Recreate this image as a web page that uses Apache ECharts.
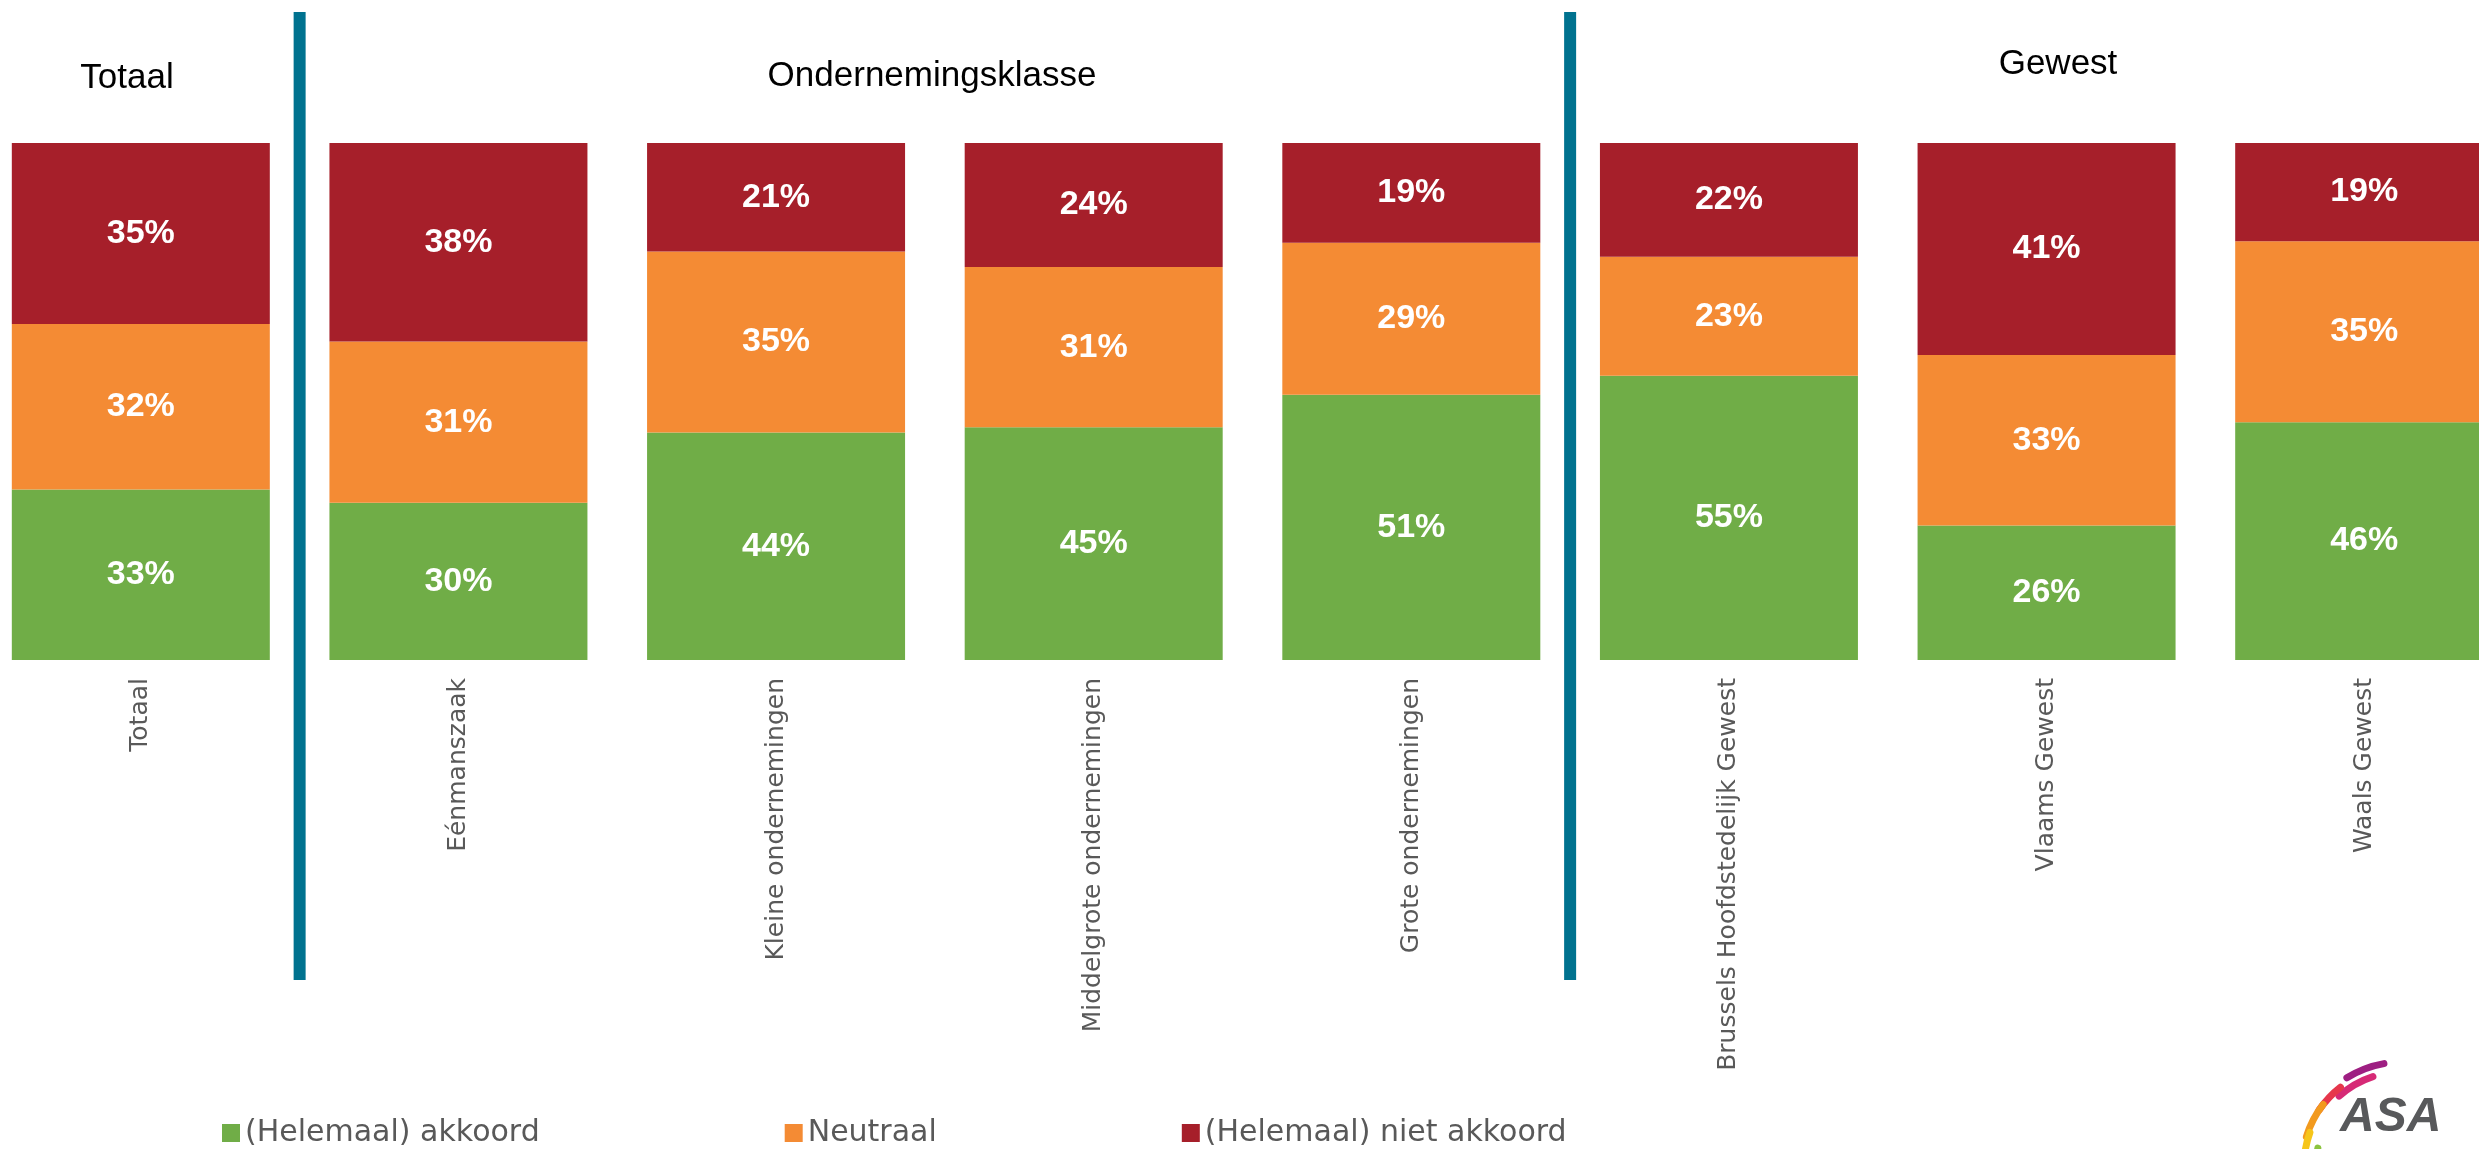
<!DOCTYPE html>
<html>
<head>
<meta charset="utf-8">
<script src="https://cdn.jsdelivr.net/npm/echarts/dist/echarts.min.js"></script>
<style>
  html, body { margin: 0; padding: 0; background: #ffffff; overflow: hidden; width: 2479px; height: 1149px; }
  /* the plot runs slightly past both page edges, so the canvas is wider than the page */
  #chart { position: absolute; left: -18px; top: 0; width: 2541px; height: 1149px; }
</style>
</head>
<body>
<div id="chart"></div>
<script>
// Categories along the x axis
const categories = [
  'Totaal',
  'Eénmanszaak',
  'Kleine ondernemingen',
  'Middelgrote ondernemingen',
  'Grote ondernemingen',
  'Brussels Hoofdstedelijk Gewest',
  'Vlaams Gewest',
  'Waals Gewest'
];

// Shares per category (percent), stacked bottom to top
const akkoord     = [33, 30.4, 44, 45, 51.3, 55, 26, 46];
const neutraal    = [32, 31.2, 35, 31, 29.4, 23, 33, 35];
const nietAkkoord = [35, 38.4, 21, 24, 19.3, 22, 41, 19];

// Series names (legend)
const seriesNames = ['(Helemaal) akkoord', 'Neutraal', '(Helemaal) niet akkoord'];

// Category groups: titles and number of categories in each group
const groupTitles = ['Totaal', 'Ondernemingsklasse', 'Gewest'];
const groupSizes  = [1, 4, 3];

const COLORS = { green: '#70AD47', orange: '#F48B34', red: '#A61F2A', blue: '#00728F', grey: '#595959' };

// horizontal offset of the canvas relative to the page
const OFFSET = 18;

const chart = echarts.init(document.getElementById('chart'), null, { renderer: 'canvas' });

const valueLabel = {
  show: true,
  position: 'inside',
  color: '#ffffff',
  fontFamily: 'Liberation Sans',
  fontWeight: 'bold',
  fontSize: 34,
  textBorderWidth: 0,
  formatter: p => Math.round(p.value) + '%'
};

function barSeries(name, data, color) {
  return {
    name: name,
    type: 'bar',
    stack: 'total',
    data: data,
    barWidth: 258,
    itemStyle: { color: color },
    label: valueLabel,
    emphasis: { disabled: true }
  };
}

chart.setOption({
  animation: false,
  backgroundColor: '#ffffff',
  grid: { left: 0, right: 0, top: 143, bottom: 489, containLabel: false },
  xAxis: {
    type: 'category',
    data: categories,
    axisLine: { show: false },
    axisTick: { show: false },
    axisLabel: {
      interval: 0,
      rotate: 90,
      margin: 18,
      color: COLORS.grey,
      fontFamily: 'DejaVu Sans',
      fontSize: 25
    }
  },
  yAxis: {
    type: 'value',
    min: 0,
    max: 100,
    show: false
  },
  legend: {
    left: 217 + OFFSET,
    top: 1113,
    icon: 'rect',
    itemWidth: 18,
    itemHeight: 18,
    itemGap: 245,
    selectedMode: false,
    textStyle: { fontFamily: 'DejaVu Sans', fontSize: 30, color: COLORS.grey },
    data: seriesNames
  },
  series: [
    barSeries(seriesNames[0], akkoord, COLORS.green),
    barSeries(seriesNames[1], neutraal, COLORS.orange),
    barSeries(seriesNames[2], nietAkkoord, COLORS.red)
  ]
});

// Vertical separators between the category groups, placed midway between neighbouring bars
const graphics = [];
let idx = 0;
for (let g = 0; g < groupSizes.length - 1; g++) {
  idx += groupSizes[g];
  const xa = chart.convertToPixel({ xAxisIndex: 0 }, idx - 1);
  const xb = chart.convertToPixel({ xAxisIndex: 0 }, idx);
  const xm = (xa + xb) / 2;
  graphics.push({
    type: 'rect',
    shape: { x: xm - 6, y: 12, width: 12, height: 968 },
    style: { fill: COLORS.blue },
    silent: true
  });
}

// Group titles
const titleX = [127, 932, 2058];
const titleY = [78, 76, 64];
groupTitles.forEach((t, i) => {
  graphics.push({
    type: 'text',
    x: titleX[i] + OFFSET,
    y: titleY[i],
    silent: true,
    style: {
      text: t,
      fill: '#000000',
      fontFamily: 'Liberation Sans',
      fontSize: 35,
      align: 'center',
      verticalAlign: 'middle'
    }
  });
});

// Logo in the lower right corner
const arcs = [
  { r: 104, a0: -122, a1: -100, c: '#9E1F82' },
  { r: 94,  a0: -132, a1: -108, c: '#D62A76' },
  { r: 100, a0: -146, a1: -128, c: '#E6374C' },
  { r: 100, a0: -163, a1: -142, c: '#F29A1E' },
  { r: 98,  a0: -182, a1: -160, c: '#F6C51A' },
  { r: 86,  a0: -188, a1: -168, c: '#8CC43F' },
  { r: 74,  a0: -190, a1: -172, c: '#1E9C6B' }
];
arcs.forEach(a => {
  graphics.push({
    type: 'arc',
    silent: true,
    shape: { cx: 2402 + OFFSET, cy: 1166, r: a.r, startAngle: a.a0 * Math.PI / 180, endAngle: a.a1 * Math.PI / 180, clockwise: true },
    style: { stroke: a.c, lineWidth: 7, fill: null, lineCap: 'round' }
  });
});
graphics.push({
  type: 'text',
  x: 2340 + OFFSET,
  y: 1094,
  silent: true,
  style: {
    text: 'ASA',
    fill: '#58595B',
    fontFamily: 'Liberation Sans',
    fontWeight: 'bold',
    fontStyle: 'italic',
    fontSize: 48,
    align: 'left',
    verticalAlign: 'top'
  }
});

chart.setOption({ graphic: graphics });
</script>
</body>
</html>
